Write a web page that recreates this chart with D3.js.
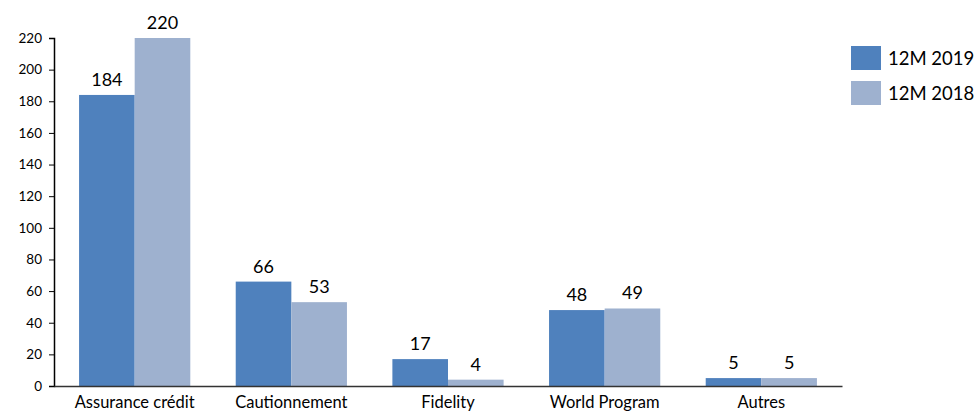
<!DOCTYPE html>
<html>
<head>
<meta charset="utf-8">
<script src="https://cdn.jsdelivr.net/npm/d3@7"></script>
<style>
  body { margin: 0; background: #fff; }
  svg text { font-family: Lato, "Open Sans", sans-serif; fill: #000; }
</style>
</head>
<body>
<svg id="chart"></svg>
<script>
// data
const categories = ["Assurance crédit", "Cautionnement", "Fidelity", "World Program", "Autres"];
const series = ["12M 2019", "12M 2018"];
const values2019 = [184, 66, 17, 48, 5];
const values2018 = [220, 53, 4, 49, 5];
const yTicks = [0, 20, 40, 60, 80, 100, 120, 140, 160, 180, 200, 220];
const colors = ["#4f81bd", "#9eb1cf"];

const width = 978, height = 412;
const margin = { top: 38, right: 136, bottom: 26, left: 54 };

const svg = d3.select("#chart")
    .attr("width", width)
    .attr("height", height);

const g = svg.append("g")
    .attr("transform", `translate(${margin.left},${margin.top})`);

const innerW = width - margin.left - margin.right;
const innerH = height - margin.top - margin.bottom;

const rows = categories.map((c, i) => ({ cat: c, vals: [values2019[i], values2018[i]] }));

const x0 = d3.scaleBand()
    .domain(categories)
    .range([0, innerW])
    .paddingInner(0.29)
    .paddingOuter(0.16);

const x1 = d3.scaleBand()
    .domain(series)
    .range([0, x0.bandwidth()]);

const y = d3.scaleLinear()
    .domain([0, 220])
    .range([innerH, 0]);

// y axis
const yAxis = g.append("g")
    .call(d3.axisLeft(y).tickValues(yTicks).tickSize(5).tickPadding(7));
yAxis.select(".domain").attr("stroke", "#000").attr("stroke-width", 1.5);
yAxis.selectAll(".tick line").attr("stroke", "#000");
yAxis.selectAll("text").style("font-size", "13.5px");

// bars
const groups = g.selectAll(".grp")
    .data(rows)
    .enter().append("g")
    .attr("class", "grp")
    .attr("transform", d => `translate(${x0(d.cat)},0)`);

groups.selectAll("rect")
    .data(d => d.vals.map((v, i) => ({ key: series[i], v: v, i: i })))
    .enter().append("rect")
    .attr("x", d => x1(d.key))
    .attr("y", d => y(d.v))
    .attr("width", x1.bandwidth())
    .attr("height", d => innerH - y(d.v))
    .attr("fill", d => colors[d.i]);

groups.selectAll(".val")
    .data(d => d.vals.map((v, i) => ({ key: series[i], v: v })))
    .enter().append("text")
    .attr("class", "val")
    .attr("x", d => x1(d.key) + x1.bandwidth() / 2)
    .attr("y", d => y(d.v) - 9)
    .attr("text-anchor", "middle")
    .style("font-size", "18px")
    .text(d => d.v);

// x axis
const xAxis = g.append("g")
    .attr("transform", `translate(0,${innerH})`)
    .call(d3.axisBottom(x0).tickSize(0).tickPadding(10));
xAxis.select(".domain").attr("stroke", "#333").attr("stroke-width", 1.5);
xAxis.selectAll("text").style("font-size", "16.5px");

// legend
const legend = svg.append("g")
    .attr("transform", "translate(851,46)");
const item = legend.selectAll("g")
    .data(series)
    .enter().append("g")
    .attr("transform", (d, i) => `translate(0,${i * 35})`);
item.append("rect")
    .attr("width", 30)
    .attr("height", 24)
    .attr("fill", (d, i) => colors[i]);
item.append("text")
    .attr("x", 37)
    .attr("y", 19)
    .style("font-size", "18.5px")
    .text(d => d);
</script>
</body>
</html>
